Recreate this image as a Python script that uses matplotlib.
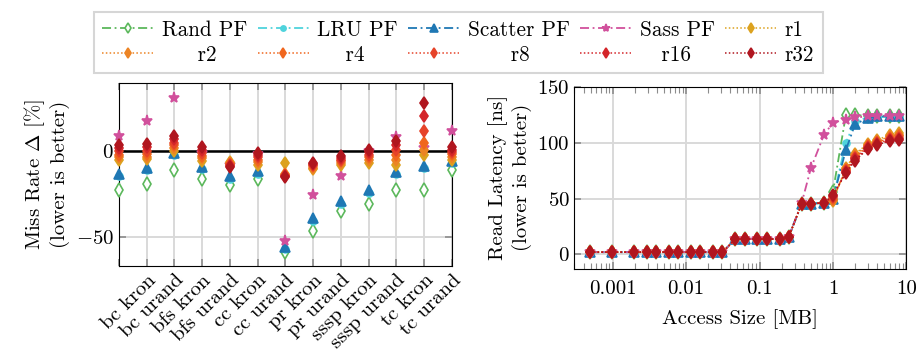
import matplotlib
matplotlib.use("Agg")
import matplotlib.pyplot as plt
import matplotlib.transforms as mtransforms
from matplotlib.ticker import FixedLocator, FixedFormatter, LogLocator, NullFormatter

plt.rcParams["font.family"] = ["cmr10"]
plt.rcParams["mathtext.fontset"] = "cm"
plt.rcParams["axes.formatter.use_mathtext"] = True
plt.rcParams["axes.unicode_minus"] = False

# ---- left panel: miss rate delta per benchmark ----
bench_labels = ["", "bc kron", "bc urand", "bfs kron", "bfs urand", "cc kron", "cc urand",
                "pr kron", "pr urand", "sssp kron", "sssp urand", "tc kron", "tc urand"]
bench_x = list(range(13))

miss_rand = [-22.5, -19, -11, -16.2, -19.5, -16, -58.7, -46.4, -35, -30.8, -22.7, -22.9, -11]
miss_lru = [-14.5, -11, -2, -10.5, -16, -13, -57, -41, -31, -24.5, -13.5, -9.8, -7]
miss_scatter = [-13.2, -9.7, -1, -9.3, -14.6, -11.7, -55.8, -39.1, -29.2, -22.8, -12.1, -8.4, -5.6]
miss_sass = [9.3, 18, 31.5, -1, -8, -1.3, -52.3, -25.4, -14.3, 0, 8.4, 2, 12.2]
miss_r1 = [-5, -4.3, 0, -5.4, -6.5, -8, -6.8, -10.3, -7.8, -6.8, -7.8, -2.3, -4.8]
miss_r2 = [-3.5, -3, 2, -4, -7, -6.5, -13.5, -9.5, -6.8, -5, -5, 0.8, -3.3]
miss_r4 = [-2, -1.5, 3.5, -2.5, -7.5, -5, -14, -8.8, -5.8, -3.5, -2, 5.2, -1.8]
miss_r8 = [0, 0.5, 5, -1, -8, -3.5, -14.3, -8, -4.8, -2, 1, 12.2, -0.3]
miss_r16 = [2, 2.5, 7, 1, -8.5, -2, -14.6, -7.3, -3.8, -0.5, 3.5, 20.7, 1]
miss_r32 = [4, 4.4, 8.9, 2.8, -9, -1, -14.8, -6.8, -2.9, 1, 6, 28.3, 2.4]

# ---- right panel: read latency vs access size ----
sizes_kb = [0.5, 1, 2, 3, 4, 6, 8, 12, 16, 24, 32, 48, 64, 96, 128, 192, 256,
            384, 512, 768, 1024, 1536, 2048, 3072, 4096, 6144, 8192]
sizes_mb = [s / 1024 for s in sizes_kb]

base = [2, 2, 2, 2, 2, 2, 2, 2, 2, 2, 2, 13.7, 13.7, 13.7, 13.7, 13.7, 15.7]
lat_rand = base + [45.5, 45.5, 46, 56, 124.5, 124.5, 124.2, 124, 124, 124]
lat_lru = base + [45.5, 45.5, 46, 50, 100, 119, 122.5, 123, 123, 123]
lat_scatter = base + [45.5, 45.5, 46, 49.4, 93.5, 116.3, 122.3, 123.5, 123.5, 123.5]
lat_sass = base + [46, 77, 106.5, 118, 120.5, 122.5, 123.5, 124, 124, 124]
lat_r1 = base + [45.5, 45.5, 46, 48, 77.5, 90, 99, 102.5, 107, 108.5]
lat_r2 = base + [45.5, 45.5, 46, 49, 76.5, 89, 98, 101.5, 105.5, 107]
lat_r4 = base + [45.5, 45.5, 46, 50, 75.5, 87.5, 97, 100.5, 104, 105.5]
lat_r8 = base + [45.5, 45.5, 46, 51, 74.5, 86.5, 96, 99.5, 103, 104]
lat_r16 = base + [45.5, 45.5, 46, 52, 73.5, 85, 95, 98.5, 102, 103]
lat_r32 = base + [45.5, 45.5, 46, 53, 73, 84, 94.5, 98, 101.5, 102]

series_names = ["Rand PF", "LRU PF", "Scatter PF", "Sass PF", "r1", "r2", "r4", "r8", "r16", "r32"]
miss_data = [miss_rand, miss_lru, miss_scatter, miss_sass, miss_r1, miss_r2, miss_r4, miss_r8, miss_r16, miss_r32]
lat_data = [lat_rand, lat_lru, lat_scatter, lat_sass, lat_r1, lat_r2, lat_r4, lat_r8, lat_r16, lat_r32]

colors = ["#5cb85c", "#4fd3dc", "#1f78b4", "#d1509c", "#dca21f", "#ec8424",
          "#f0661e", "#e64329", "#d4252a", "#b0161f"]
markers = ["d", "o", "^", "*", "d", "d", "d", "d", "d", "d"]
msizes = [7, 5, 7, 8, 6.5, 6.5, 6.5, 6.5, 6.5, 6.5]
pf_dash = (0, (5, 2, 1, 2))
r_dot = (0, (1, 1.5))
styles = [pf_dash] * 4 + [r_dot] * 6

fig = plt.figure(figsize=(9.22, 3.6), dpi=100)
ax1 = fig.add_axes([0.129, 0.262, 0.361, 0.507])
ax2 = fig.add_axes([0.623, 0.253, 0.360, 0.506])

grid_c = "#d9d9d9"
tick_c = "#8c8c8c"

# left panel
for i, name in enumerate(series_names):
    mfc = "white" if i == 0 else colors[i]
    ax1.plot(bench_x, miss_data[i], linestyle="none", marker=markers[i], ms=msizes[i],
             color=colors[i], mfc=mfc, mew=1.2, zorder=3 + i * 0.1, clip_on=False)
ax1.axhline(0, color="black", lw=1.8, zorder=2)
ax1.set_xlim(0, 12)
ax1.set_ylim(-67, 40)
ax1.set_xticks(bench_x)
ax1.set_xticklabels(bench_labels, rotation=45, ha="right", va="top", rotation_mode="anchor")
shift = mtransforms.ScaledTranslation(7 / 100, 0, fig.dpi_scale_trans)
for lab in ax1.get_xticklabels():
    lab.set_transform(lab.get_transform() + shift)
ax1.set_yticks([-50, 0])
ax1.grid(True, color=grid_c, lw=1.4)
ax1.set_axisbelow(True)
ax1.tick_params(direction="in", length=5, width=1.2, color=tick_c, top=True, right=True,
                labelsize=15)
ax1.tick_params(axis="x", pad=4)
ax1.set_ylabel("Miss Rate $\\Delta$ [%]\n(lower is better)", fontsize=15, labelpad=4)

# right panel
for i, name in enumerate(series_names):
    mfc = "white" if i == 0 else colors[i]
    lw = 1.3 if i < 4 else 1.1
    ax2.plot(sizes_mb, lat_data[i], linestyle=styles[i], lw=lw, marker=markers[i],
             ms=msizes[i], color=colors[i], mfc=mfc, mew=1.2, label=name)
ax2.set_xscale("log")
ax2.set_xlim(3e-4, 10)
ax2.set_ylim(-13, 150)
ax2.xaxis.set_major_locator(FixedLocator([0.001, 0.01, 0.1, 1, 10]))
ax2.xaxis.set_major_formatter(FixedFormatter(["0.001", "0.01", "0.1", "1", "10"]))
ax2.xaxis.set_minor_locator(LogLocator(base=10, subs=range(2, 10), numticks=20))
ax2.xaxis.set_minor_formatter(NullFormatter())
ax2.set_yticks([0, 50, 100, 150])
ax2.grid(True, which="major", color=grid_c, lw=1.4)
ax2.set_axisbelow(True)
ax2.tick_params(which="both", direction="in", color=tick_c, top=True, right=True, labelsize=15)
ax2.tick_params(which="major", length=5, width=1.2)
ax2.tick_params(which="minor", length=4, width=0.8)
ax2.tick_params(axis="x", which="both", pad=8)
ax2.set_xlabel("Access Size [MB]", fontsize=15, labelpad=8)
ax2.set_ylabel("Read Latency [ns]\n(lower is better)", fontsize=15, labelpad=4)

# legend: pad short labels so they sit centred under the long ones
handles, labels = ax2.get_legend_handles_labels()
pad = {"r2": 5, "r4": 4, "r8": 6, "r16": 3}
labels = [" " * pad.get(l, 0) + l for l in labels]
leg_h = [handles[0], handles[5], handles[1], handles[6], handles[2], handles[7],
         handles[3], handles[8], handles[4], handles[9]]
leg_l = [labels[0], labels[5], labels[1], labels[6], labels[2], labels[7],
         labels[3], labels[8], labels[4], labels[9]]
leg = fig.legend(leg_h, leg_l, loc="upper center", bbox_to_anchor=(0.497, 0.997), ncol=5,
                 fontsize=15.3, frameon=True, fancybox=False, edgecolor="#cccccc",
                 handlelength=2.4, handletextpad=0.4, columnspacing=0.5, borderpad=0.4,
                 labelspacing=0.25, markerscale=0.75)
leg.get_frame().set_linewidth(1.5)

fig.savefig("out.png", dpi=100)
